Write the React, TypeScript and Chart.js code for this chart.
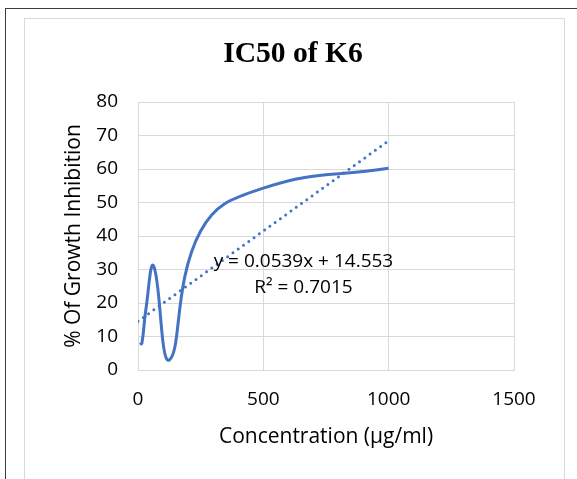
import React, { useEffect, useRef } from 'react';
import { Chart, registerables } from 'chart.js';

Chart.register(...registerables);

// ---- data ----
const concentrations = [7.8, 15.6, 31.25, 62.5, 125, 250, 500, 1000];
const inhibition = [7.6, 8.0, 18, 31, 3, 41.5, 54.3, 60.2];
const trendSlope = 0.0539;
const trendIntercept = 14.553;
const trendX = [0, 1000];
const xRange = [0, 1500];
const xStep = 500;
const yRange = [0, 80];
const yStep = 10;
const titleText = 'IC50 of K6';
const xTitle = 'Concentration (µg/ml)';
const yTitle = '% Of Growth Inhibition';
const equationLines = ['y = 0.0539x + 14.553', 'R² = 0.7015'];
const equationAnchor = [660, 32.4];

const BLUE = '#4472C4';
const GRID = '#d9d9d9';
const SANS = '"Open Sans", "Noto Sans", sans-serif';

const equationPlugin = {
  id: 'equationLabel',
  afterDatasetsDraw(chart: any) {
    const { ctx, scales } = chart;
    const px = scales.x.getPixelForValue(equationAnchor[0]);
    const py = scales.y.getPixelForValue(equationAnchor[1]);
    ctx.save();
    ctx.font = `19px ${SANS}`;
    ctx.fillStyle = '#000';
    ctx.textAlign = 'center';
    ctx.textBaseline = 'middle';
    equationLines.forEach((line, i) => ctx.fillText(line, px, py + i * 26));
    ctx.restore();
  },
};

export default function App() {
  const ref = useRef<HTMLCanvasElement | null>(null);

  useEffect(() => {
    document.body.style.margin = '0';
    const canvas = ref.current;
    if (!canvas) return;
    const chart = new Chart(canvas, {
      type: 'scatter',
      data: {
        datasets: [
          {
            label: 'data',
            data: concentrations.map((x, i) => ({ x, y: inhibition[i] })),
            showLine: true,
            borderColor: BLUE,
            backgroundColor: BLUE,
            borderWidth: 3,
            pointRadius: 0,
            tension: 0.45,
            order: 1,
          },
          {
            label: 'trend',
            data: trendX.map((x) => ({ x, y: trendIntercept + trendSlope * x })),
            showLine: true,
            borderColor: BLUE,
            backgroundColor: BLUE,
            borderWidth: 3,
            borderDash: [0, 6.5],
            borderCapStyle: 'round',
            pointRadius: 0,
            tension: 0,
            order: 0,
          },
        ],
      },
      options: {
        animation: false,
        responsive: false,
        maintainAspectRatio: false,
        layout: { padding: { left: 9, right: 0, top: 0, bottom: 0 } },
        plugins: {
          legend: { display: false },
          tooltip: { enabled: false },
          title: {
            display: true,
            text: titleText,
            color: '#000',
            font: { family: '"Liberation Serif", "Times New Roman", serif', size: 29.6, weight: 'bold' },
            padding: { top: 37, bottom: 29.5 },
          },
        },
        scales: {
          x: {
            type: 'linear',
            min: xRange[0],
            max: xRange[1],
            ticks: {
              stepSize: xStep,
              padding: 18,
              color: '#000',
              font: { family: SANS, size: 19 },
              callback: (v: any) => String(v),
            },
            grid: { color: GRID, lineWidth: 1, drawTicks: false },
            border: { color: GRID, width: 1 },
            title: {
              display: true,
              text: xTitle,
              color: '#000',
              font: { family: SANS, size: 21 },
              padding: { top: 0, bottom: 29 },
            },
            afterFit(s: any) {
              s.height = 109;
            },
          },
          y: {
            type: 'linear',
            min: yRange[0],
            max: yRange[1],
            ticks: {
              stepSize: yStep,
              padding: 20,
              color: '#000',
              font: { family: SANS, size: 19 },
              callback: (v: any) => String(v),
            },
            grid: { color: GRID, lineWidth: 1, drawTicks: false },
            border: { color: GRID, width: 1 },
            title: {
              display: true,
              text: yTitle,
              color: '#000',
              font: { family: SANS, size: 21 },
              padding: { top: 52, bottom: 0 },
            },
            afterFit(s: any) {
              s.width = 129;
            },
          },
          y2: {
            type: 'linear',
            position: 'right',
            display: true,
            min: 0,
            max: 1,
            ticks: { display: false },
            grid: { display: false, drawOnChartArea: false, drawTicks: false },
            border: { display: false },
            afterFit(s: any) {
              s.width = 63;
            },
          },
        },
      },
      plugins: [equationPlugin],
    } as any);
    return () => chart.destroy();
  }, []);

  return (
    <div style={{ position: 'relative', width: 577, height: 479, overflow: 'hidden', background: '#fff' }}>
      <div
        style={{
          position: 'absolute',
          left: 5,
          top: 8,
          width: 700,
          height: 600,
          borderLeft: '1.5px solid #3c3c3c',
          borderTop: '1.5px solid #3c3c3c',
          boxSizing: 'border-box',
        }}
      />
      <div
        style={{
          position: 'absolute',
          left: 24,
          top: 18,
          width: 541,
          height: 600,
          border: `1px solid ${GRID}`,
          boxSizing: 'border-box',
        }}
      />
      <canvas
        ref={ref}
        width={577}
        height={479}
        style={{ position: 'absolute', left: 0, top: 0, width: 577, height: 479 }}
      />
    </div>
  );
}
